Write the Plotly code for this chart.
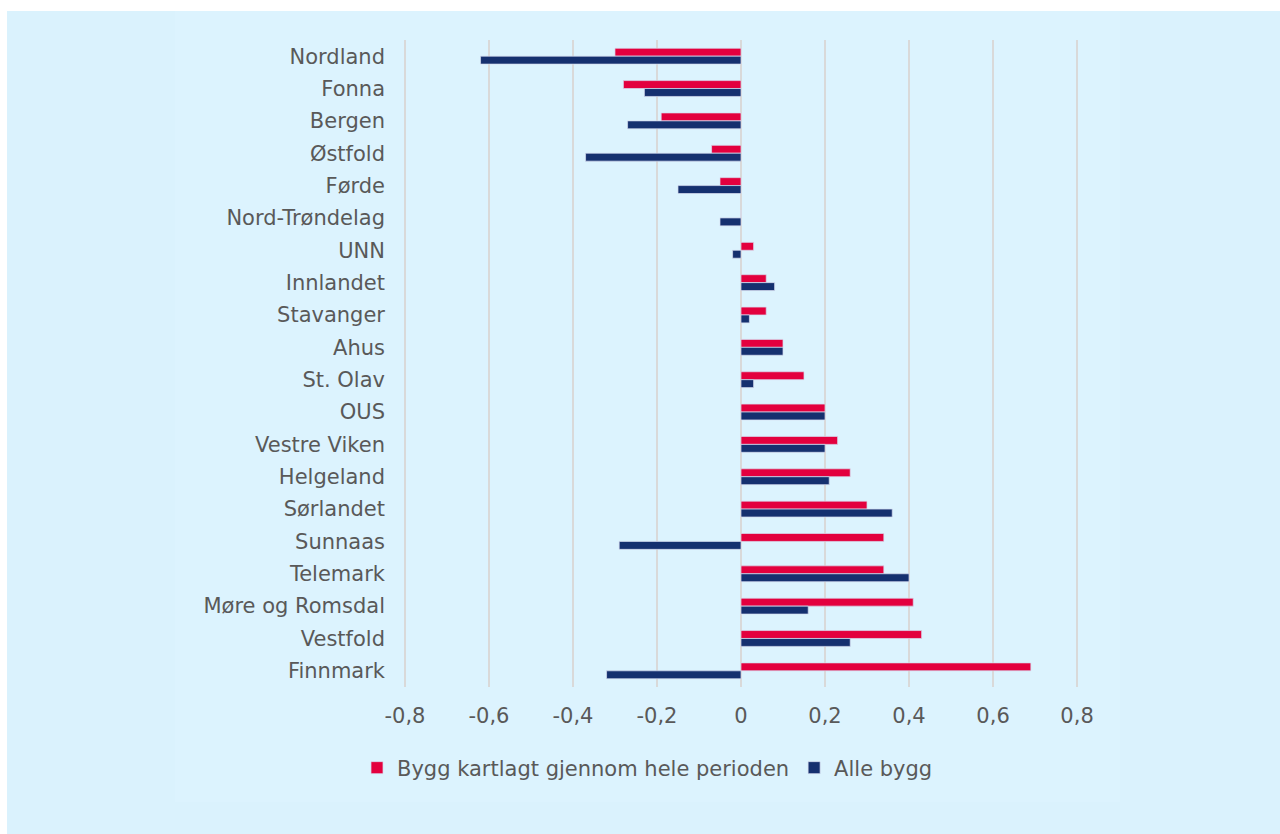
import plotly.graph_objects as go

# ---------------- data ----------------
categories = ["Nordland", "Fonna", "Bergen", "Østfold", "Førde", "Nord-Trøndelag",
              "UNN", "Innlandet", "Stavanger", "Ahus", "St. Olav", "OUS",
              "Vestre Viken", "Helgeland", "Sørlandet", "Sunnaas", "Telemark",
              "Møre og Romsdal", "Vestfold", "Finnmark"]
kartlagt = [-0.30, -0.28, -0.19, -0.07, -0.05, 0.00, 0.03, 0.06, 0.06, 0.10,
            0.15, 0.20, 0.23, 0.26, 0.30, 0.34, 0.34, 0.41, 0.43, 0.69]
alle_bygg = [-0.62, -0.23, -0.27, -0.37, -0.15, -0.05, -0.02, 0.08, 0.02, 0.10,
             0.03, 0.20, 0.20, 0.21, 0.36, -0.29, 0.40, 0.16, 0.26, -0.32]
series_names = ["Bygg kartlagt gjennom hele perioden", "Alle bygg"]
x_tick_vals = [-0.8, -0.6, -0.4, -0.2, 0, 0.2, 0.4, 0.6, 0.8]
x_tick_text = ["-0,8", "-0,6", "-0,4", "-0,2", "0", "0,2", "0,4", "0,6", "0,8"]

# ---------------- style ----------------
RED = "#E3003E"
NAVY = "#15306F"
TEXT = "#595959"
GRID = "#D9D9D9"
BG_OUT = "#DAF2FD"
BG_IN = "#DCF3FE"
FONT = "DejaVu Sans"

W, H = 1280, 834
L, R, T, B = 398, 196, 40, 147
PW, PH = W - L - R, H - T - B
XR = 0.8165  # small pad so the outer gridlines at ±0.8 are drawn


def px_x(p):
    return (p - L) / PW


def px_y(p):
    return (H - B - p) / PH


fig = go.Figure()
for name, vals, col in [(series_names[0], kartlagt, RED), (series_names[1], alle_bygg, NAVY)]:
    fig.add_trace(go.Bar(
        y=categories, x=vals, name=name, orientation="h",
        marker=dict(color=col, line=dict(color="rgba(215,220,240,0.9)", width=0.8)),
    ))

fig.update_layout(
    width=W, height=H,
    margin=dict(l=L, r=R, t=T, b=B, pad=0),
    paper_bgcolor="white",
    plot_bgcolor="rgba(0,0,0,0)",
    barmode="group",
    bargap=0.51,
    bargroupgap=0,
    font=dict(family=FONT, size=21, color=TEXT),
    showlegend=True,
    legend=dict(
        orientation="h",
        x=px_x(357), xanchor="left",
        y=px_y(768), yanchor="middle",
        bgcolor="rgba(0,0,0,0)",
        font=dict(family=FONT, size=21, color=TEXT),
        traceorder="normal",
    ),
    xaxis=dict(
        range=[-XR, XR],
        tickvals=x_tick_vals, ticktext=x_tick_text,
        showgrid=True, gridcolor=GRID, gridwidth=1.5,
        zeroline=False, showline=False, ticks="",
        ticklabelstandoff=14,
        tickfont=dict(family=FONT, size=21, color=TEXT),
        fixedrange=True,
    ),
    yaxis=dict(
        type="category",
        autorange="reversed",
        showgrid=False, zeroline=False, showline=False, ticks="",
        ticklabelstandoff=12,
        tickfont=dict(family=FONT, size=21, color=TEXT),
        fixedrange=True,
    ),
    shapes=[
        dict(type="rect", xref="paper", yref="paper",
             x0=px_x(7), x1=px_x(1285), y0=px_y(840), y1=px_y(11),
             fillcolor=BG_OUT, line=dict(width=0), layer="below"),
        dict(type="rect", xref="paper", yref="paper",
             x0=px_x(175), x1=px_x(1120), y0=px_y(802), y1=px_y(11),
             fillcolor=BG_IN, line=dict(width=0), layer="below"),
    ],
)

fig.write_html("out.html", config={"displayModeBar": False},
               post_script="document.body.style.margin='0';document.body.style.overflow='hidden';")
